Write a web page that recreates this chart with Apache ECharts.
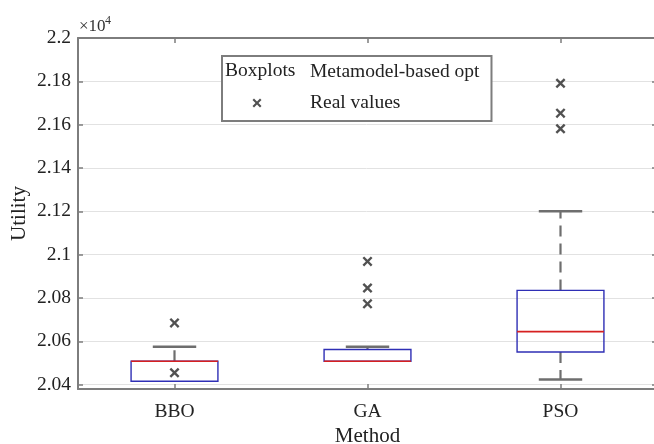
<!DOCTYPE html>
<html>
<head>
<meta charset="utf-8">
<script src="https://cdn.jsdelivr.net/npm/echarts@6/dist/echarts.min.js"></script>
<style>
html,body{margin:0;padding:0;background:#fff;}
#c{width:654px;height:444px;}
</style>
</head>
<body>
<div id="c"></div>
<script>
// ---- data (units of 10^4) ----
const methods = ['BBO', 'GA', 'PSO'];
const whiskerLow = [2.0416, 2.0508, 2.0424];
const quart1 = [2.0416, 2.0508, 2.0551];
const medians = [2.0508, 2.0508, 2.0645];
const quart3 = [2.0508, 2.0562, 2.0835];
const whiskerHigh = [2.0575, 2.0575, 2.1200];
const realBBO = [2.0685, 2.0455];
const realGA = [2.0969, 2.0846, 2.0773];
const realPSO = [2.1791, 2.1653, 2.1581];
const yTicks = [2.04, 2.06, 2.08, 2.10, 2.12, 2.14, 2.16, 2.18, 2.20];

const FONT = 'Liberation Serif';
const GRAY = '#7d7d7d';

const boxData = methods.map((m, i) => [i, whiskerLow[i], quart1[i], medians[i], quart3[i], whiskerHigh[i]]);
const realData = [];
[realBBO, realGA, realPSO].forEach((arr, i) => arr.forEach(v => realData.push([methods[i], v])));

const crossPath = 'path://M27.5,7L29,5.5L32,8.5L35,5.5L36.5,7L33.5,10L36.5,13L35,14.5L32,11.5L29,14.5L27.5,13L30.5,10Z';
const crossIcon = 'path://M0,0M80,20M27.5,7L29,5.5L32,8.5L35,5.5L36.5,7L33.5,10L36.5,13L35,14.5L32,11.5L29,14.5L27.5,13L30.5,10Z';

const chart = echarts.init(document.getElementById('c'));
chart.setOption({
  animation: false,
  backgroundColor: '#fff',
  grid: { left: 78, top: 38, width: 579, height: 351, outerBoundsMode: 'none', containLabel: false },
  legend: {
    orient: 'vertical', left: 222, top: 56,
    itemWidth: 80, itemHeight: 20, itemGap: 9,
    padding: [5, 12, 7, 3],
    borderColor: GRAY, borderWidth: 2, backgroundColor: '#fff',
    selectedMode: false,
    textStyle: { fontFamily: FONT, fontSize: 19.5, color: '#222', lineHeight: 22 },
    data: [
      { name: 'Metamodel-based opt', icon: 'none' },
      { name: 'Real values', icon: crossIcon }
    ]
  },
  graphic: [
    { type: 'text', left: 225, top: 61, z: 100, style: { text: 'Boxplots', font: '19.5px "Liberation Serif"', fill: '#222' } },
    { type: 'text', left: 79, top: 18, style: { text: '×10', font: '17px "Liberation Serif"', fill: '#333' } },
    { type: 'text', left: 105, top: 15, style: { text: '4', font: '12px "Liberation Serif"', fill: '#333' } }
  ],
  xAxis: [
    {
      type: 'category', data: methods, position: 'bottom',
      name: 'Method', nameLocation: 'middle', nameGap: 37, nameMoveOverlap: false,
      nameTextStyle: { fontFamily: FONT, fontSize: 21, color: '#222' },
      axisLine: { show: true, lineStyle: { color: GRAY, width: 2 } },
      axisTick: { show: true, inside: true, alignWithLabel: true, length: 5, lineStyle: { color: GRAY, width: 1.5 } },
      axisLabel: { fontFamily: FONT, fontSize: 19.5, color: '#222', margin: 13 },
      splitLine: { show: false }
    },
    {
      type: 'category', data: methods, position: 'top',
      axisLine: { show: true, lineStyle: { color: GRAY, width: 2 } },
      axisTick: { show: true, inside: true, alignWithLabel: true, length: 5, lineStyle: { color: GRAY, width: 1.5 } },
      axisLabel: { show: false },
      splitLine: { show: false }
    }
  ],
  yAxis: [
    {
      type: 'value', min: 2.038, max: 2.2, position: 'left',
      name: 'Utility', nameLocation: 'middle', nameGap: 48, nameMoveOverlap: false,
      nameTextStyle: { fontFamily: FONT, fontSize: 21, color: '#222' },
      axisLine: { show: true, lineStyle: { color: GRAY, width: 2 } },
      axisTick: { show: true, inside: true, length: 5, customValues: yTicks, lineStyle: { color: GRAY, width: 1.5 } },
      axisLabel: { customValues: yTicks, fontFamily: FONT, fontSize: 19.5, color: '#222', margin: 7,
        formatter: v => String(+(+v).toFixed(2)) },
      splitLine: { show: true, lineStyle: { color: '#e2e2e2', width: 1 } }
    },
    {
      type: 'value', min: 2.038, max: 2.2, position: 'right',
      axisLine: { show: true, lineStyle: { color: GRAY, width: 2 } },
      axisTick: { show: true, inside: true, length: 5, customValues: yTicks, lineStyle: { color: GRAY, width: 1.5 } },
      axisLabel: { show: false },
      splitLine: { show: false }
    }
  ],
  series: [
    {
      name: 'Metamodel-based opt', type: 'custom',
      xAxisIndex: 0, yAxisIndex: 0,
      encode: { x: 0, y: [1, 2, 3, 4, 5] },
      data: boxData,
      z: 2,
      renderItem: function (params, api) {
        const xi = api.value(0);
        const lo = api.coord([xi, api.value(1)]);
        const q1 = api.coord([xi, api.value(2)]);
        const md = api.coord([xi, api.value(3)]);
        const q3 = api.coord([xi, api.value(4)]);
        const hi = api.coord([xi, api.value(5)]);
        const band = api.size([1, 0])[0];
        const bw = band * 0.45, cw = bw / 2;
        const x = q1[0];
        const ch = [];
        const wStyle = { stroke: '#6e6e6e', lineWidth: 2.2, lineDash: [11, 7] };
        const cStyle = { stroke: '#6e6e6e', lineWidth: 2.5 };
        if (hi[1] < q3[1] - 0.5) {
          ch.push({ type: 'line', shape: { x1: x, y1: q3[1], x2: x, y2: hi[1] }, style: wStyle });
          ch.push({ type: 'line', shape: { x1: x - cw / 2, y1: hi[1], x2: x + cw / 2, y2: hi[1] }, style: cStyle });
        }
        if (lo[1] > q1[1] + 0.5) {
          ch.push({ type: 'line', shape: { x1: x, y1: q1[1], x2: x, y2: lo[1] }, style: wStyle });
          ch.push({ type: 'line', shape: { x1: x - cw / 2, y1: lo[1], x2: x + cw / 2, y2: lo[1] }, style: cStyle });
        }
        ch.push({ type: 'rect', shape: { x: x - bw / 2, y: q3[1], width: bw, height: q1[1] - q3[1] },
          style: { fill: 'none', stroke: '#2f2fb5', lineWidth: 1.4 } });
        ch.push({ type: 'line', shape: { x1: x - bw / 2, y1: md[1], x2: x + bw / 2, y2: md[1] },
          style: { stroke: '#d62020', lineWidth: 1.6 } });
        return { type: 'group', children: ch };
      }
    },
    {
      name: 'Real values', type: 'scatter',
      xAxisIndex: 0, yAxisIndex: 0,
      symbol: crossPath, symbolSize: 10,
      itemStyle: { color: '#262626' },
      data: realData,
      z: 3
    }
  ]
});
</script>
</body>
</html>
